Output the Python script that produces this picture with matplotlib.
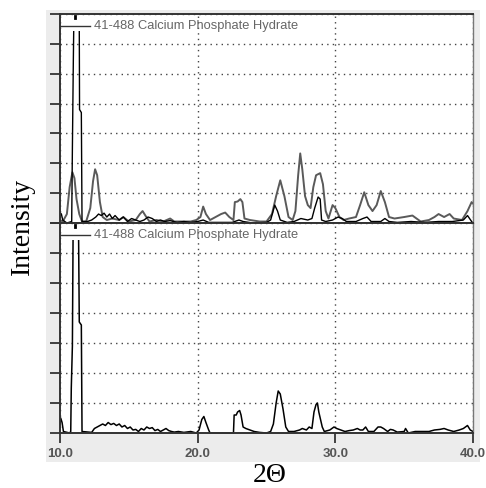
import matplotlib.pyplot as plt
from matplotlib.patches import Rectangle

# top panel, black trace
top_black_x = [10.0, 10.1, 10.2, 10.5, 10.85, 10.9, 10.97, 11.0, 11.4, 11.42, 11.55, 11.6,
               12.0, 12.3, 12.6, 12.8, 13.0, 13.2, 13.4, 13.6, 13.8, 14.0, 14.3, 14.6, 14.9,
               15.2, 15.5, 15.8, 16.1, 16.4, 16.7, 17.0, 17.3, 17.6, 18.0, 18.5, 19.0, 19.5,
               20.0, 20.4, 20.8, 21.5, 22.5, 23.0, 23.3, 24.0, 25.0, 25.3, 25.6, 25.8, 26.0,
               26.5, 27.0, 27.5, 28.0, 28.3, 28.5, 28.75, 28.9, 29.0, 29.3, 29.8, 30.2, 30.5,
               30.8, 31.5, 32.0, 32.3, 32.6, 33.3, 33.6, 33.9, 34.5, 35.5, 36.5, 37.5, 38.5,
               39.3, 39.6, 39.9, 40.0]
top_black_y = [0.35, 0.3, 0.1, 0.0, 0.05, 2.5, 5.5, 6.6, 6.6, 3.8, 3.7, 0.05,
               0.05, 0.1, 0.2, 0.3, 0.25, 0.33, 0.2, 0.3, 0.15, 0.25, 0.1, 0.2, 0.05,
               0.15, 0.1, 0.05, 0.1, 0.2, 0.15, 0.05, 0.1, 0.05, 0.08, 0.02, 0.05, 0.02,
               0.05, 0.1, 0.02, 0.02, 0.02, 0.1, 0.05, 0.0, 0.02, 0.1, 0.6, 0.4, 0.1,
               0.02, 0.05, 0.15, 0.1, 0.15, 0.5, 0.87, 0.8, 0.1, 0.05, 0.1, 0.2, 0.15,
               0.05, 0.05, 0.15, 0.2, 0.05, 0.05, 0.15, 0.05, 0.02, 0.05, 0.02, 0.05, 0.05,
               0.1, 0.25, 0.05, 0.0]

# top panel, grey trace
top_grey_x = [10.0, 10.2, 10.5, 10.7, 10.9, 11.05, 11.2, 11.4, 11.6, 11.9, 12.2, 12.4,
              12.55, 12.7, 12.9, 13.1, 13.4, 13.8, 14.3, 14.6, 15.0, 15.5, 15.8, 16.0,
              16.2, 16.5, 17.0, 17.5, 18.0, 18.3, 18.8, 19.5, 19.9, 20.2, 20.4, 20.6,
              20.9, 21.3, 21.7, 22.0, 22.3, 22.6, 22.7, 22.9, 23.1, 23.25, 23.4, 23.8,
              24.5, 25.0, 25.4, 25.7, 26.0, 26.3, 26.6, 26.9, 27.1, 27.3, 27.45, 27.6,
              27.8, 28.0, 28.2, 28.4, 28.6, 28.9, 29.1, 29.3, 29.5, 29.8, 30.0, 30.3,
              30.6, 31.0, 31.5, 31.8, 32.1, 32.4, 32.7, 33.0, 33.3, 33.6, 33.9, 34.3,
              35.0, 35.6, 36.2, 36.8, 37.2, 37.5, 37.9, 38.3, 38.6, 39.2, 39.6, 39.9, 40.0]
top_grey_y = [0.1, 0.05, 0.3, 1.2, 1.7, 1.5, 0.8, 0.3, 0.05, 0.05, 0.5, 1.4,
              1.8, 1.6, 0.7, 0.2, 0.1, 0.15, 0.1, 0.2, 0.05, 0.1, 0.3, 0.4,
              0.25, 0.05, 0.1, 0.05, 0.15, 0.05, 0.05, 0.05, 0.1, 0.2, 0.55, 0.3,
              0.1, 0.2, 0.3, 0.35, 0.2, 0.1, 0.7, 0.72, 0.8, 0.7, 0.15, 0.1,
              0.05, 0.05, 0.3, 0.9, 1.43, 0.9, 0.2, 0.1, 0.4, 1.6, 2.33, 1.8,
              0.9, 0.6, 0.5, 1.2, 1.6, 1.67, 1.3, 0.4, 0.15, 0.6, 0.5, 0.2,
              0.1, 0.15, 0.2, 0.6, 1.03, 0.6, 0.4, 0.6, 1.07, 0.7, 0.2, 0.15,
              0.2, 0.25, 0.05, 0.1, 0.2, 0.3, 0.2, 0.3, 0.15, 0.1, 0.4, 0.7, 0.65]

# bottom panel trace
bot_x = [10.0, 10.05, 10.15, 10.25, 10.7, 10.78, 10.82, 10.9, 10.95, 11.35, 11.4, 11.55,
         11.6, 12.3, 12.5, 12.7, 12.9, 13.1, 13.3, 13.5, 13.7, 13.9, 14.1, 14.3, 14.5,
         14.7, 14.9, 15.1, 15.3, 15.5, 15.7, 15.9, 16.1, 16.3, 16.5, 16.7, 16.9, 17.1,
         17.3, 17.5, 17.7, 17.9, 18.1, 18.3, 18.6, 19.0, 19.5, 19.9, 20.1, 20.3, 20.45,
         20.6, 20.8, 20.9, 21.5, 22.0, 22.6, 22.65, 22.8, 22.9, 23.05, 23.15, 23.3, 23.5,
         23.8, 24.1, 24.5, 25.0, 25.3, 25.5, 25.7, 25.85, 26.0, 26.2, 26.4, 26.6, 27.0,
         27.4, 27.6, 27.9, 28.1, 28.3, 28.45, 28.6, 28.7, 28.8, 28.9, 29.05, 29.2, 29.6,
         29.9, 30.1, 30.4, 30.7, 31.0, 31.3, 31.6, 31.8, 32.0, 32.2, 32.4, 32.8, 33.1,
         33.3, 33.5, 33.8, 34.0, 34.2, 34.5, 35.0, 35.1, 35.3, 35.8, 36.3, 36.8, 37.2,
         37.6, 37.9, 38.2, 38.6, 39.0, 39.3, 39.6, 39.8, 40.0]
bot_y = [0.3, 0.5, 0.35, 0.05, 0.0, 0.05, 1.5, 2.9, 6.6, 6.6, 3.7, 3.6,
         0.05, 0.02, 0.15, 0.2, 0.25, 0.3, 0.25, 0.35, 0.28, 0.32, 0.25, 0.3, 0.2,
         0.25, 0.15, 0.2, 0.1, 0.12, 0.05, 0.15, 0.1, 0.2, 0.15, 0.18, 0.08, 0.12,
         0.05, 0.1, 0.15, 0.08, 0.05, 0.03, 0.05, 0.02, 0.05, 0.0, 0.1, 0.45, 0.55,
         0.35, 0.1, 0.0, 0.0, 0.0, 0.0, 0.6, 0.6, 0.7, 0.75, 0.6, 0.2, 0.15,
         0.1, 0.05, 0.02, 0.0, 0.05, 0.3, 1.0, 1.4, 1.3, 0.8, 0.2, 0.05, 0.05,
         0.1, 0.15, 0.1, 0.2, 0.15, 0.7, 0.95, 1.0, 0.7, 0.5, 0.2, 0.05, 0.1,
         0.2, 0.15, 0.1, 0.05, 0.08, 0.1, 0.15, 0.1, 0.1, 0.2, 0.05, 0.05, 0.2,
         0.2, 0.15, 0.05, 0.12, 0.1, 0.03, 0.05, 0.15, 0.0, 0.05, 0.05, 0.05, 0.1,
         0.12, 0.15, 0.1, 0.05, 0.1, 0.15, 0.25, 0.1, 0.05]

ref_label = "41-488 Calcium Phosphate Hydrate"
ref_peak = 11.12
x_ticks = [10, 20, 30, 40]
x_ticklabels = ["10.0", "20.0", "30.0", "40.0"]

W, H = 486, 488
fig = plt.figure(figsize=(W / 100, H / 100), dpi=100)

# light grey instrument-style background
fig.add_artist(Rectangle((46 / W, 1 - 462 / H), (480 - 46) / W, (462 - 10) / H,
                         transform=fig.transFigure, facecolor="#ececec",
                         edgecolor="none", zorder=0))

left, right = 60 / W, 473 / W
ax_top = fig.add_axes([left, 1 - 223 / H, right - left, (223 - 14) / H])
ax_bot = fig.add_axes([left, 1 - 433 / H, right - left, (433 - 223) / H])

lines = []
lines += ax_top.plot(top_grey_x, top_grey_y, color="#5a5a5a", lw=1.4)
lines += ax_top.plot(top_black_x, top_black_y, color="black", lw=1.0)
lines += ax_bot.plot(bot_x, bot_y, color="black", lw=1.1)
# the strong peak runs off the scale just under the label band
for ln in lines:
    ln.set_clip_path(Rectangle((10, -1), 30, 7.42, transform=ln.axes.transData))

for ax in (ax_top, ax_bot):
    ax.set_xlim(10, 40)
    ax.set_ylim(0, 7)
    ax.set_yticks(range(8))
    ax.set_yticklabels([])
    ax.set_xticks(x_ticks)
    ax.tick_params(axis="y", length=7.5, width=1.3, color="#333333", direction="out")
    ax.grid(True, linestyle=(0, (1, 3)), color="#444444", lw=1.0)
    for s in ax.spines.values():
        s.set_color("#333333")
        s.set_linewidth(1.4)
    ax.spines["right"].set_color("#777777")
    ax.spines["right"].set_linewidth(1.0)
    # reference pattern label
    ax.plot([10, 12.2], [6.6, 6.6], color="#333333", lw=1.0, clip_on=False)
    ax.plot([ref_peak, ref_peak], [6.86, 6.94], color="black", lw=2.0)
    ax.text(12.5, 6.6, ref_label, family="Liberation Sans", fontsize=9.3,
            color="#666666", va="center", ha="left")

ax_top.tick_params(axis="x", length=0, labelbottom=False)
ax_bot.tick_params(axis="x", length=7.5, width=1.3, color="#333333",
                   labelsize=9.5, labelcolor="#555555", pad=3)
ax_bot.set_xticklabels(x_ticklabels, family="Liberation Sans", fontweight="bold")

fig.text(22 / W, 1 - 226 / H, "Intensity", rotation=90, family="Liberation Serif",
         fontsize=20, ha="center", va="center")
fig.text(270 / W, 1 - 476 / H, "2\u0398", family="Liberation Serif",
         fontsize=20, ha="center", va="center")

fig.savefig("out.png", dpi=100)
